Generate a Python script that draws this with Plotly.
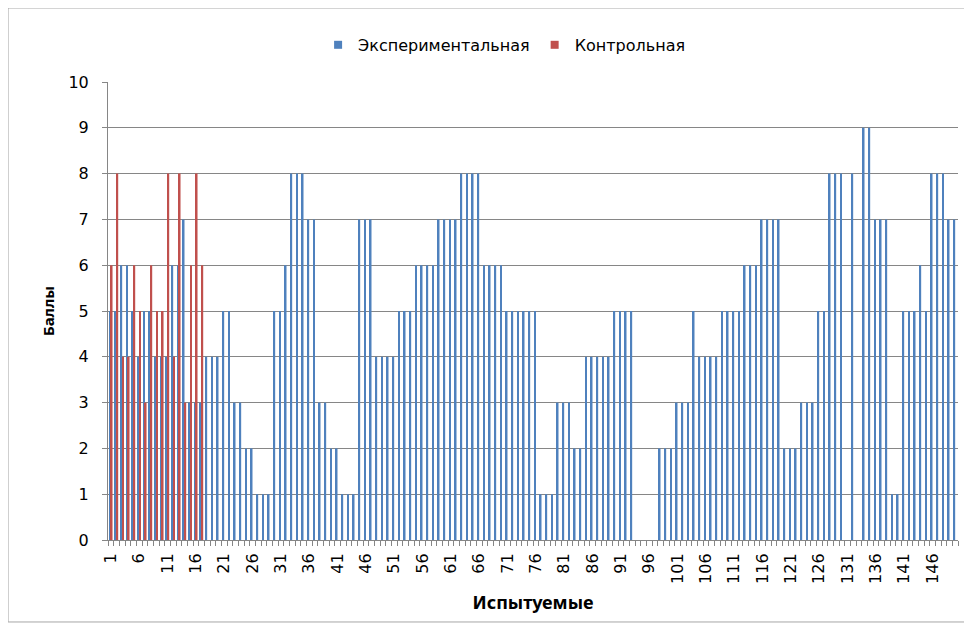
import plotly.graph_objects as go

# Data
subjects = list(range(1, 151))
experimental = [
    5, 5, 6, 6, 5, 4, 5, 5, 4, 4,   # 1-10
    4, 6, 6, 7, 3, 3, 3, 4, 4, 4,   # 11-20
    5, 5, 3, 3, 2, 2, 1, 1, 1, 5,   # 21-30
    5, 6, 8, 8, 8, 7, 7, 3, 3, 2,   # 31-40
    2, 1, 1, 1, 7, 7, 7, 4, 4, 4,   # 41-50
    4, 5, 5, 5, 6, 6, 6, 6, 7, 7,   # 51-60
    7, 7, 8, 8, 8, 8, 6, 6, 6, 6,   # 61-70
    5, 5, 5, 5, 5, 5, 1, 1, 1, 3,   # 71-80
    3, 3, 2, 2, 4, 4, 4, 4, 4, 5,   # 81-90
    5, 5, 5, 0, 0, 0, 0, 2, 2, 2,   # 91-100
    3, 3, 3, 5, 4, 4, 4, 4, 5, 5,   # 101-110
    5, 5, 6, 6, 6, 7, 7, 7, 7, 2,   # 111-120
    2, 2, 3, 3, 3, 5, 5, 8, 8, 8,   # 121-130
    0, 8, 0, 9, 9, 7, 7, 7, 1, 1,   # 131-140
    5, 5, 5, 6, 5, 8, 8, 8, 7, 7,   # 141-150
]
control_subjects = list(range(1, 18))
control = [6, 8, 4, 4, 6, 5, 3, 6, 5, 5, 8, 4, 8, 3, 6, 8, 6]

tick_values = list(range(1, 150, 5))
tick_labels = [str(v) for v in tick_values]

FONT = "DejaVu Sans"
GRID = "#868686"
BLUE = "#4F81BD"
RED = "#C0504D"

fig = go.Figure()
fig.add_trace(go.Bar(
    x=subjects, y=experimental, name="Экспериментальная", showlegend=False,
    marker=dict(color=BLUE, line=dict(width=0)),
))
fig.add_trace(go.Bar(
    x=control_subjects, y=control, name="Контрольная", showlegend=False,
    marker=dict(color=RED, line=dict(width=0)),
))
# legend-only entries with small square keys
fig.add_trace(go.Scatter(x=[None], y=[None], mode="markers", name="Экспериментальная",
                         marker=dict(symbol="square", size=8, color=BLUE)))
fig.add_trace(go.Scatter(x=[None], y=[None], mode="markers", name="Контрольная",
                         marker=dict(symbol="square", size=8, color=RED)))

fig.update_layout(
    width=964, height=622,
    paper_bgcolor="white", plot_bgcolor="white",
    margin=dict(l=100, r=14, t=74, b=90, autoexpand=False),
    barmode="group", bargap=0.4, bargroupgap=0.0,
    font=dict(family=FONT, size=15, color="black"),
    showlegend=True,
    legend=dict(orientation="h", x=0.466, xanchor="center", y=1.081, yanchor="middle",
                font=dict(size=16), itemwidth=30, traceorder="normal"),
    xaxis=dict(
        range=[0.5, 150.5], tickmode="array", tickvals=tick_values, ticktext=tick_labels,
        tickangle=-90, ticks="", showgrid=False, zeroline=False,
        showline=True, linecolor=GRID, linewidth=1,
        tickfont=dict(size=16), ticklabelstandoff=6,
        minor=dict(ticks="outside", ticklen=5, tickcolor=GRID, dtick=1, tick0=0.5, showgrid=False),
        title=dict(text="<b>Испытуемые</b>", font=dict(family="Noto Sans", size=18), standoff=13),
    ),
    yaxis=dict(
        range=[0, 10], dtick=1, tick0=0, showgrid=True, gridcolor=GRID, gridwidth=1,
        zeroline=False, showline=True, linecolor=GRID, linewidth=1,
        ticks="outside", ticklen=5, tickcolor=GRID, tickfont=dict(size=16),
        ticklabelstandoff=10,
        title=dict(text="<b>Баллы</b>", font=dict(family="Noto Sans", size=15), standoff=10),
    ),
    shapes=[dict(type="rect", xref="paper", yref="paper",
                 x0=-0.1176, x1=1.0118, y0=-0.179, y1=1.1616,
                 line=dict(color="#A6A6A6", width=1), fillcolor="rgba(0,0,0,0)", layer="below")],
)

fig.write_html("out.html")
